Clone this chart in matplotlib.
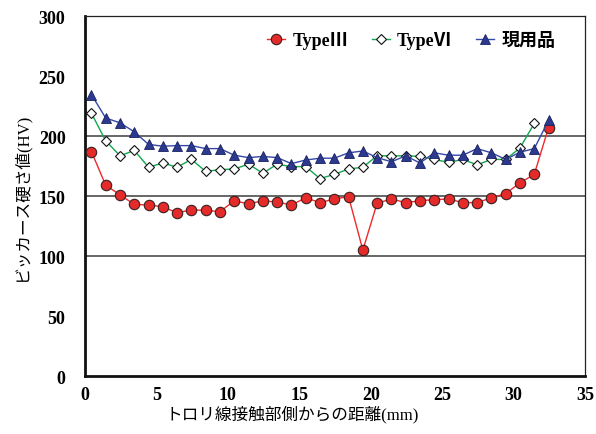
import matplotlib.pyplot as plt

plt.rcParams['font.family'] = ['Liberation Serif', 'Noto Sans CJK JP']
plt.rcParams['font.weight'] = 'bold'

# ---------- Data ----------

x_pos = [0.45, 1.45, 2.45, 3.45, 4.45, 5.45, 6.45, 7.45, 8.45, 9.45, 10.45,
         11.45, 12.45, 13.45, 14.45, 15.45, 16.45, 17.45, 18.45, 19.45, 20.45,
         21.45, 22.45, 23.45, 24.45, 25.45, 26.45, 27.45, 28.45, 29.45, 30.45,
         31.45, 32.45]

type3 = [187, 159, 151, 143, 142.5, 141, 136, 138.5, 138, 137, 146,
         143.5, 146, 145, 142.5, 148.5, 144.5, 147.5, 149.5, 105, 144,
         147.5, 144.5, 146, 147, 147.5, 144.5, 144.5, 148.5, 152, 161,
         168, 207]

type6 = [219, 196, 183.5, 188, 174, 177.5, 174, 180.5, 170.5, 172, 172.5,
         176.5, 169, 176.5, 174.5, 174.5, 164.5, 168, 172.5, 174, 183.5,
         183.5, 183.5, 183, 180.5, 178, 180.5, 176, 180.5, 180.5, 190,
         210.5]

current = [234.5, 215, 211, 203.5, 193, 191.5, 192, 192, 189.5, 189.5, 184,
           182, 183, 182, 177, 180, 181.5, 181.5, 186, 187.5, 182,
           178.5, 183.5, 177.5, 186, 184, 184, 189.5, 186, 180.5, 186.5,
           189.5, 213]

labels = ['TypeⅢ', 'TypeⅥ', '現用品']
y_ticks = [0, 50, 100, 150, 200, 250, 300]
x_ticks = [0, 5, 10, 15, 20, 25, 30, 35]
grid_vals = [100, 150, 200]

# ---------- Plot ----------

fig = plt.figure(figsize=(5.96, 4.35), dpi=100)
ax = fig.add_axes([0.1426, 0.1333, 0.8389, 0.8276])

for g in grid_vals:
    ax.axhline(g, color='#5a5a5a', linewidth=1.3, zorder=1)

ax.plot(x_pos, type3, color='#ee2a2a', linewidth=1.0, marker='o',
        markersize=7.5, markerfacecolor='#e52a2a', markeredgecolor='#3a2020',
        markeredgewidth=0.8, label=labels[0], zorder=3)
ax.plot(x_pos[:len(type6)], type6, color='#12a84c', linewidth=1.0, marker='D',
        markersize=5, markerfacecolor='white', markeredgecolor='#111111',
        markeredgewidth=0.8, label=labels[1], zorder=3)
ax.plot(x_pos, current, color='#3548a8', linewidth=1.0, marker='^',
        markersize=7.5, markerfacecolor='#2b3a8f', markeredgecolor='#1a2060',
        markeredgewidth=0.6, label=labels[2], zorder=3)

ax.set_xlim(0, 35)
ax.set_ylim(0, 300)
ax.set_xticks(x_ticks)
ax.set_yticks(y_ticks)
ax.tick_params(axis='both', length=0, labelsize=13)
ax.tick_params(axis='y', pad=14)
ax.tick_params(axis='x', pad=7)

for side in ['left', 'bottom']:
    ax.spines[side].set_linewidth(2)
    ax.spines[side].set_color('#111111')
for side in ['top', 'right']:
    ax.spines[side].set_linewidth(0.9)
    ax.spines[side].set_color('#222222')

ax.set_xlabel('トロリ線接触部側からの距離(mm)', fontsize=12)
ax.xaxis.set_label_coords(0.414, -0.08)
ax.set_ylabel('ビッカース硬さ値(HV)', fontsize=12)
ax.yaxis.set_label_coords(-0.11, 0.5)

ax.legend(loc='center right', bbox_to_anchor=(0.955, 0.933), ncol=3,
          frameon=False, fontsize=13, handlelength=1.0, columnspacing=1.3,
          handletextpad=0.4, borderaxespad=0)

fig.savefig('out.png', dpi=100)
